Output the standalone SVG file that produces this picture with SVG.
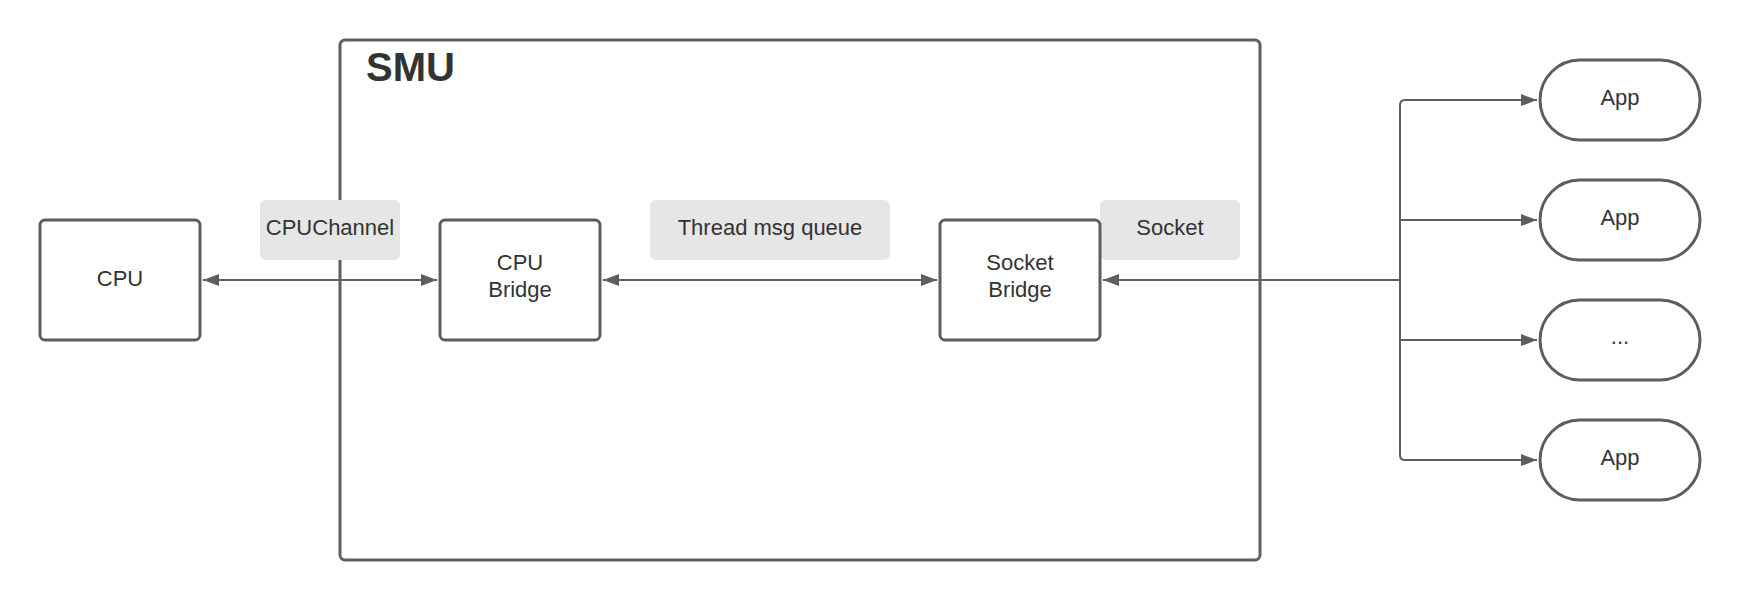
<svg xmlns="http://www.w3.org/2000/svg" width="1740" height="600" viewBox="0 0 1740 600">
<style>
.box{fill:#fff;stroke:#5e5e5e;stroke-width:3}
.lbl{fill:#e6e6e6;stroke:none}
.t{font-family:"Liberation Sans",Arial,sans-serif;font-size:22px;fill:#333;text-anchor:middle}
.title{font-family:"Liberation Sans",Arial,sans-serif;font-size:40px;font-weight:bold;fill:#333}
.c{fill:none;stroke:#5e5e5e;stroke-width:2}
</style>
<defs>
<marker id="ah" viewBox="0 0 16 12" refX="16" refY="6" markerWidth="16" markerHeight="12" markerUnits="userSpaceOnUse" orient="auto-start-reverse">
<path d="M0,0 L16,6 L0,12 z" fill="#5e5e5e"/>
</marker>
</defs>
<rect width="1740" height="600" fill="#fff"/>
<g id="smu">
<rect class="box" x="340" y="40" width="920" height="520" rx="5"/>
<text class="title" x="366" y="81">SMU</text>
</g>
<g id="labels">
<rect class="lbl" x="260" y="200" width="140" height="60" rx="6"/>
<rect class="lbl" x="650" y="200" width="240" height="60" rx="6"/>
<rect class="lbl" x="1100" y="200" width="140" height="60" rx="6"/>
</g>
<g id="connectors">
<line class="c" x1="203" y1="280" x2="437" y2="280" marker-start="url(#ah)" marker-end="url(#ah)"/>
<line class="c" x1="603" y1="280" x2="937" y2="280" marker-start="url(#ah)" marker-end="url(#ah)"/>
<line class="c" x1="1400" y1="280" x2="1103" y2="280" marker-end="url(#ah)"/>
<path class="c" d="M1537,100 L1405,100 Q1400,100 1400,105 L1400,455 Q1400,460 1405,460 L1537,460" marker-start="url(#ah)" marker-end="url(#ah)"/>
<line class="c" x1="1400" y1="220" x2="1537" y2="220" marker-end="url(#ah)"/>
<line class="c" x1="1400" y1="340" x2="1537" y2="340" marker-end="url(#ah)"/>
</g>
<g id="cpuchannel-label"><text class="t" x="330" y="235">CPUChannel</text></g>
<g id="thread-label"><text class="t" x="770" y="235">Thread msg queue</text></g>
<g id="socket-label"><text class="t" x="1170" y="235">Socket</text></g>
<g id="cpu">
<rect class="box" x="40" y="220" width="160" height="120" rx="5"/>
<text class="t" x="120" y="286">CPU</text>
</g>
<g id="cpu-bridge">
<rect class="box" x="440" y="220" width="160" height="120" rx="5"/>
<text class="t" x="520" y="270">CPU</text>
<text class="t" x="520" y="297">Bridge</text>
</g>
<g id="socket-bridge">
<rect class="box" x="940" y="220" width="160" height="120" rx="5"/>
<text class="t" x="1020" y="270">Socket</text>
<text class="t" x="1020" y="297">Bridge</text>
</g>
<g id="app1">
<rect class="box" x="1540" y="60" width="160" height="80" rx="40"/>
<text class="t" x="1620" y="105">App</text>
</g>
<g id="app2">
<rect class="box" x="1540" y="180" width="160" height="80" rx="40"/>
<text class="t" x="1620" y="225">App</text>
</g>
<g id="app3">
<rect class="box" x="1540" y="300" width="160" height="80" rx="40"/>
<text class="t" x="1620" y="344">...</text>
</g>
<g id="app4">
<rect class="box" x="1540" y="420" width="160" height="80" rx="40"/>
<text class="t" x="1620" y="465">App</text>
</g>
</svg>
